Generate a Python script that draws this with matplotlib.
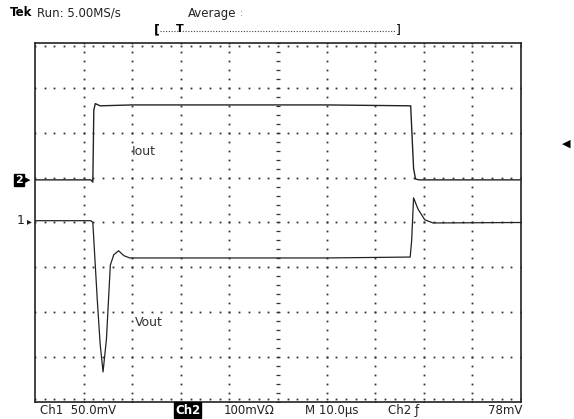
import matplotlib
matplotlib.use("Agg")
import matplotlib.pyplot as plt
import numpy as np

# ---------- waveform data (time in us, level in divisions) ----------
iout_t = [0, 11.5, 11.9, 12.1, 12.4, 13.4, 20, 40, 60, 77.3, 77.6, 77.9, 78.3, 79, 90, 100]
iout_v = [0.95, 0.95, 0.9, 2.5, 2.65, 2.6, 2.62, 2.62, 2.62, 2.6, 1.9, 1.2, 0.97, 0.95, 0.95, 0.95]

vout_t = [0, 11.5, 11.9, 12.8, 13.4, 14.0, 14.7, 15.5, 16.2, 17.2, 18.3, 19.5, 34, 60, 77.2, 77.5, 77.9, 78.8, 80.2, 81.9, 100]
vout_v = [0.04, 0.04, 0.0, -1.7, -2.7, -3.33, -2.6, -0.95, -0.72, -0.63, -0.74, -0.79, -0.79, -0.79, -0.77, -0.4, 0.55, 0.3, 0.06, -0.01, 0.0]

bottom_labels = ["Ch1  50.0mV", "100mV\u03a9", "M 10.0\u00b5s", "Ch2 \u0192", "78mV"]

fig = plt.figure(figsize=(5.74, 4.19), dpi=100)
ax = fig.add_axes([35 / 574, 17 / 419, 486 / 574, 359 / 419])
ax.set_xlim(0, 10)
ax.set_ylim(-4, 4)
ax.set_xticks([])
ax.set_yticks([])
for s in ax.spines.values():
    s.set_linewidth(1.2)
    s.set_color("#222222")

dot = dict(ls="none", marker="s", ms=1.3, mew=0, color="#333333")

# graticule: dotted grid lines, 5 dots per division
minor_y = np.arange(-4, 4.01, 0.2)
minor_x = np.arange(0, 10.01, 0.2)
for k in range(1, 10):
    if k != 5:
        ax.plot([k] * len(minor_y), minor_y, **dot)
for k in range(-3, 4):
    ax.plot(minor_x, [k] * len(minor_x), **dot)
# centre vertical line with small ticks
ax.plot([5] * len(minor_y), minor_y, ls="none", marker="_", ms=2.5, mew=0.9, color="#333333")
# edge ticks
ax.plot(minor_x, [3.94] * len(minor_x), **dot)
ax.plot(minor_x, [-3.94] * len(minor_x), **dot)

# traces
ax.plot(np.array(iout_t) / 10, iout_v, color="#222222", lw=1.0)
ax.plot(np.array(vout_t) / 10, vout_v, color="#222222", lw=0.9)

ax.text(2.0, 1.5, "Iout", fontsize=9, color="#333333")
ax.text(2.05, -2.3, "Vout", fontsize=9, color="#333333")

# channel markers on the left
fig.text(15 / 574, 1 - 180 / 419, "2", fontsize=8, fontweight="bold", color="white",
         va="center", ha="left",
         bbox=dict(boxstyle="square,pad=0.1", fc="black", ec="black"))
fig.text(25 / 574, 1 - 180 / 419, "\u25b8", fontsize=8, color="black", va="center")
fig.text(17 / 574, 1 - 221 / 419, "1", fontsize=9, color="#222222", va="center")
fig.text(27 / 574, 1 - 221 / 419, "\u25b8", fontsize=7, color="#222222", va="center")
# trigger level marker on the right
fig.text(562 / 574, 1 - 144 / 419, "\u25c0", fontsize=8, color="black", va="center")

# header
fig.text(10 / 574, 1 - 13 / 419, "Tek", fontsize=8.5, fontweight="bold", va="center")
fig.text(37 / 574, 1 - 13 / 419, "Run: 5.00MS/s", fontsize=8.5, va="center", color="#222222")
fig.text(188 / 574, 1 - 13 / 419, "Average", fontsize=8.5, va="center", color="#222222")
fig.text(240 / 574, 1 - 13 / 419, ":", fontsize=6, va="center", color="#666666")
fig.text(154 / 574, 1 - 30 / 419, "[", fontsize=9, fontweight="bold", va="center")
fig.text(396 / 574, 1 - 30 / 419, "]", fontsize=9, va="center")
fig.text(176 / 574, 1 - 29 / 419, "T", fontsize=8, fontweight="bold", va="center")
fig.lines.append(plt.Line2D([160 / 574, 396 / 574], [1 - 31 / 419] * 2, transform=fig.transFigure,
                            ls=(0, (1, 1.5)), lw=0.8, color="#444444"))

# bottom status line
yb = 1 - 410 / 419
fig.text(40 / 574, yb, bottom_labels[0], fontsize=8.5, va="center", color="#222222")
fig.text(175 / 574, yb, "Ch2", fontsize=8.5, fontweight="bold", color="white", va="center",
         bbox=dict(boxstyle="square,pad=0.1", fc="black", ec="black"))
fig.text(224 / 574, yb, bottom_labels[1], fontsize=8.5, va="center", color="#222222")
fig.text(305 / 574, yb, bottom_labels[2], fontsize=8.5, va="center", color="#222222")
fig.text(388 / 574, yb, bottom_labels[3], fontsize=8.5, va="center", color="#222222")
fig.text(488 / 574, yb, bottom_labels[4], fontsize=8.5, va="center", color="#222222")

fig.savefig("out.png", dpi=100)
